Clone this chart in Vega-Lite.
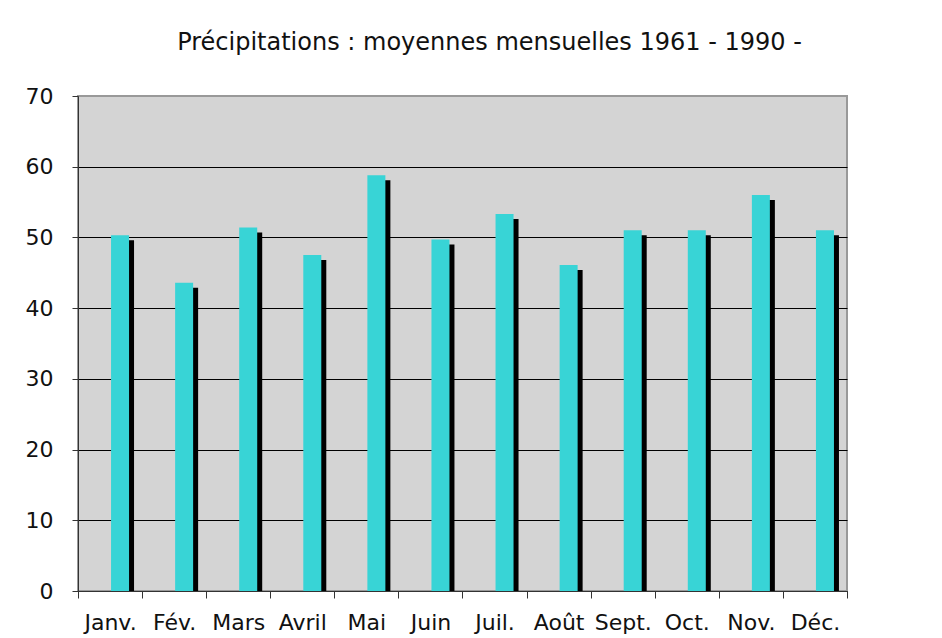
{
  "$schema": "https://vega.github.io/schema/vega-lite/v6.json",
  "autosize": "none",
  "width": 769,
  "height": 495,
  "padding": {"left": 78, "top": 96, "right": 95, "bottom": 47},
  "background": "white",
  "title": {
    "text": "Précipitations : moyennes mensuelles 1961 - 1990 -",
    "font": "DejaVu Sans",
    "fontSize": 24,
    "fontWeight": "normal",
    "color": "#111111",
    "anchor": "middle",
    "dx": 27,
    "offset": 30
  },
  "data": {
    "values": [
      {"mois": "Janv.", "precip": 50.3},
      {"mois": "Fév.", "precip": 43.6},
      {"mois": "Mars", "precip": 51.4},
      {"mois": "Avril", "precip": 47.5},
      {"mois": "Mai", "precip": 58.8},
      {"mois": "Juin", "precip": 49.7},
      {"mois": "Juil.", "precip": 53.3},
      {"mois": "Août", "precip": 46.1},
      {"mois": "Sept.", "precip": 51.0},
      {"mois": "Oct.", "precip": 51.0},
      {"mois": "Nov.", "precip": 56.0},
      {"mois": "Déc.", "precip": 51.0}
    ]
  },
  "encoding": {
    "x": {
      "field": "mois",
      "type": "nominal",
      "sort": null,
      "scale": {"paddingInner": 0, "paddingOuter": 0},
      "axis": {
        "title": null,
        "labelAngle": 0,
        "labelFont": "DejaVu Sans",
        "labelFontSize": 22,
        "labelColor": "#111111",
        "labelPadding": 14,
        "tickBand": "extent",
        "tickSize": 7,
        "tickColor": "#333333",
        "domainColor": "#333333",
        "grid": false
      }
    },
    "y": {
      "field": "precip",
      "type": "quantitative",
      "scale": {"domain": [0, 70], "nice": false},
      "axis": {
        "title": null,
        "values": [0, 10, 20, 30, 40, 50, 60, 70],
        "labelFont": "DejaVu Sans",
        "labelFontSize": 22,
        "labelColor": "#111111",
        "labelPadding": 19,
        "tickSize": 6,
        "tickColor": "#333333",
        "domainColor": "#333333",
        "grid": true,
        "gridColor": {"condition": {"test": "datum.value === 70", "value": "#999999"}, "value": "#000000"},
        "gridOpacity": 1
      }
    }
  },
  "layer": [
    {
      "mark": {"type": "bar", "color": "#000000", "size": 18, "xOffset": 15, "yOffset": 5, "clip": true}
    },
    {
      "mark": {"type": "bar", "color": "#38d4d6", "size": 18, "xOffset": 10}
    }
  ],
  "config": {
    "view": {"fill": "#d4d4d4", "stroke": "#999999", "strokeWidth": 2}
  }
}
